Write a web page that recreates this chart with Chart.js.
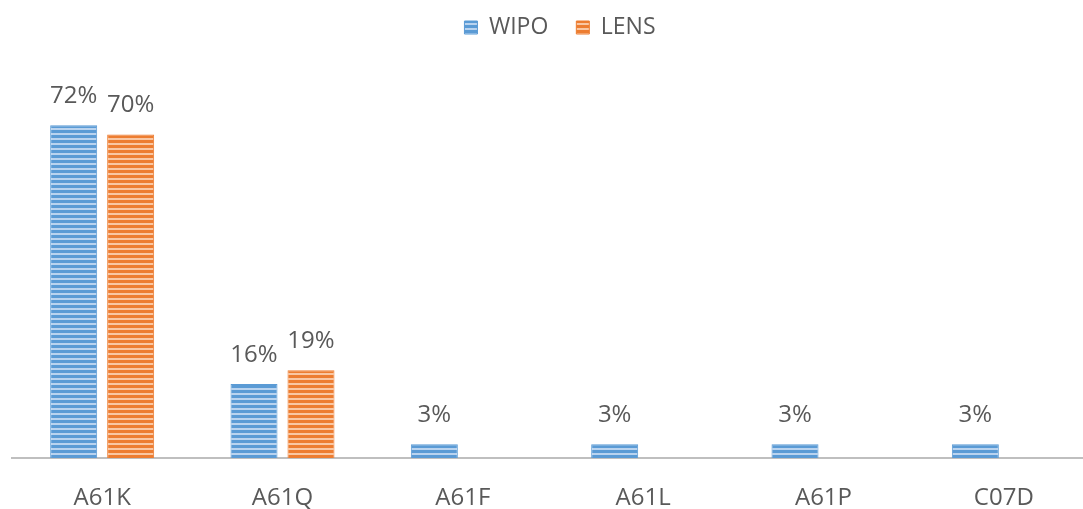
<!DOCTYPE html>
<html><head><meta charset="utf-8">
<script src="https://cdn.jsdelivr.net/npm/chart.js@4/dist/chart.umd.min.js"></script>
<style>
html,body{margin:0;padding:0;background:#fff;overflow:hidden;width:1083px;height:509px}
#wrap{position:relative;width:1096px;height:509px}
canvas{display:block}
</style></head>
<body><div id="wrap"><canvas id="c" width="1096" height="509" style="width:1096px;height:509px"></canvas></div>
<script>
const categories = ['A61K', 'A61Q', 'A61F', 'A61L', 'A61P', 'C07D'];
const seriesNames = ['WIPO', 'LENS'];
const wipoValues = [72, 16, 3, 3, 3, 3];
const lensValues = [70, 19, null, null, null, null];

Chart.defaults.font.family = '"Open Sans", sans-serif';
Chart.defaults.color = '#595959';

function stripes(base, light) {
  const c = document.createElement('canvas');
  c.width = 8; c.height = 5;
  const x = c.getContext('2d');
  x.fillStyle = base; x.fillRect(0, 0, 8, 5);
  x.fillStyle = light; x.fillRect(0, 3, 8, 2);
  return x.createPattern(c, 'repeat');
}
const blueFill = stripes('#5B9BD5', '#B9D3EF');
const orangeFill = stripes('#ED7D31', '#F9C7A3');

const labelPlugin = {
  id: 'vlabels',
  beforeDraw(chart) {
    const lg = chart.legend;
    if (lg && !lg._shifted) {
      const orig = lg.draw;
      lg.draw = function () {
        const ctx = chart.ctx;
        ctx.save();
        ctx.translate(7, 0);
        orig.apply(this, arguments);
        ctx.restore();
      };
      lg._shifted = true;
    }
  },
  afterDatasetsDraw(chart) {
    const ctx = chart.ctx;
    ctx.save();
    ctx.font = '24px "Open Sans", sans-serif';
    ctx.fillStyle = '#595959';
    ctx.textAlign = 'center';
    ctx.textBaseline = 'alphabetic';
    chart.data.datasets.forEach((ds, i) => {
      const meta = chart.getDatasetMeta(i);
      meta.data.forEach((bar, j) => {
        const v = ds.data[j];
        if (v == null) return;
        ctx.fillText(v + '%', bar.x, bar.y - 22);
      });
    });
    ctx.restore();
  }
};

const chart = new Chart(document.getElementById('c'), {
  type: 'bar',
  data: {
    labels: categories,
    datasets: [
      { label: seriesNames[0], data: wipoValues, backgroundColor: blueFill, borderColor: '#5B9BD5', borderWidth: 1 },
      { label: seriesNames[1], data: lensValues, backgroundColor: orangeFill, borderColor: '#ED7D31', borderWidth: 1 }
    ]
  },
  options: {
    responsive: false,
    animation: false,
    events: [],
    layout: { padding: { left: 12, right: 2, top: -12, bottom: -29 } },
    datasets: { bar: { categoryPercentage: 0.632, barPercentage: 0.8246 } },
    plugins: {
      legend: {
        position: 'top',
        labels: { boxWidth: 13, boxHeight: 13, padding: 28, color: '#595959', font: { size: 23 } }
      },
      tooltip: { enabled: false }
    },
    scales: {
      x: {
        grid: { display: false, drawTicks: false },
        border: { display: true, color: '#BFBFBF', width: 2 },
        ticks: { color: '#595959', font: { size: 24, lineHeight: 1 }, padding: 28 }
      },
      y: { display: false, min: 0, max: 88.5 }
    }
  },
  plugins: [labelPlugin]
});
chart.draw();
</script>
</body></html>
